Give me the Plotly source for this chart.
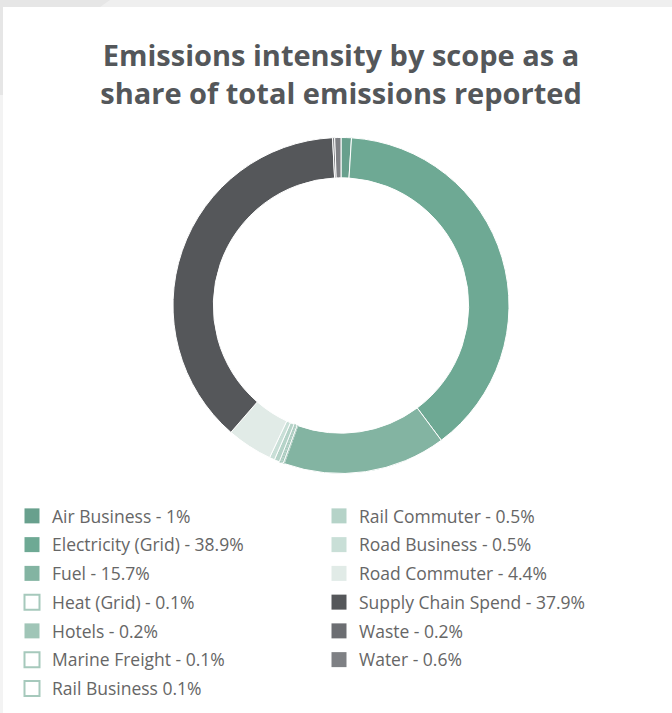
import plotly.graph_objects as go

# ---- data ----
categories = ["Air Business", "Electricity (Grid)", "Fuel", "Heat (Grid)", "Hotels",
              "Marine Freight", "Rail Business", "Rail Commuter", "Road Business",
              "Road Commuter", "Supply Chain Spend", "Waste", "Water"]
shares = [1.0, 38.9, 15.7, 0.1, 0.2, 0.1, 0.1, 0.5, 0.5, 4.4, 37.9, 0.2, 0.6]
legend_labels = ["Air Business - 1%", "Electricity (Grid) - 38.9%", "Fuel - 15.7%",
                 "Heat (Grid) - 0.1%", "Hotels - 0.2%", "Marine Freight - 0.1%",
                 "Rail Business 0.1%", "Rail Commuter - 0.5%", "Road Business - 0.5%",
                 "Road Commuter - 4.4%", "Supply Chain Spend - 37.9%", "Waste - 0.2%",
                 "Water - 0.6%"]
colors = ["#68a08d", "#6ea994", "#83b4a2", "#ffffff", "#a0c5b7", "#ffffff", "#ffffff",
          "#b5d3c8", "#c9dfd7", "#e1ebe7", "#55575a", "#6c6e72", "#7e8084"]
hollow = [False, False, False, True, False, True, True, False, False, False, False, False, False]
outline = "#a6c9bc"

W, H = 672, 713
fig = go.Figure()

fig.add_trace(go.Pie(
    labels=categories, values=shares, sort=False, direction="clockwise", rotation=0,
    hole=0.76, textinfo="none", showlegend=False,
    marker=dict(colors=colors,
                line=dict(color=[outline if h else "#ffffff" for h in hollow], width=1)),
    domain=dict(x=[173 / W, 509 / W], y=[1 - 474 / H, 1 - 137 / H]),
))

# legend entries (two columns)
for i, (lab, c, h) in enumerate(zip(legend_labels, colors, hollow)):
    fig.add_trace(go.Scatter(
        x=[None], y=[None], mode="markers", name=lab,
        legend="legend" if i < 7 else "legend2", legendgroup=f"g{i}",
        marker=dict(symbol="square", size=15, color=c,
                    line=dict(color=outline if h else c, width=2 if h else 0)),
    ))

legend_common = dict(
    orientation="v", xanchor="left", yanchor="top", bgcolor="rgba(0,0,0,0)",
    font=dict(family="Open Sans", size=17.5, color="#666666"),
    traceorder="grouped", tracegroupgap=3, itemsizing="trace",
)

fig.update_layout(
    width=W, height=H,
    margin=dict(l=0, r=0, t=0, b=0),
    paper_bgcolor="#ffffff", plot_bgcolor="rgba(0,0,0,0)",
    xaxis=dict(visible=False), yaxis=dict(visible=False),
    title=dict(
        text="Emissions intensity by scope as a<br>share of total emissions reported",
        x=341 / W, xanchor="center", y=1 - 66 / H, yanchor="top",
        font=dict(family="Open Sans", size=29, color="#54575a", weight="bold"),
    ),
    legend=dict(x=12 / W, y=1 - 498 / H, **legend_common),
    legend2=dict(x=319 / W, y=1 - 498 / H, **legend_common),
    shapes=[
        dict(type="rect", xref="paper", yref="paper", x0=0, x1=1, y0=1 - 7 / H, y1=1,
             fillcolor="#efefef", line_width=0, layer="below"),
        dict(type="rect", xref="paper", yref="paper", x0=0, x1=3 / W, y0=0, y1=1,
             fillcolor="#f3f3f3", line_width=0, layer="below"),
        dict(type="path", xref="paper", yref="paper",
             path=f"M 0 1 L {110 / W} 1 L {100 / W} {1 - 7 / H} L {3 / W} {1 - 7 / H} L {3 / W} {1 - 95 / H} L 0 {1 - 95 / H} Z",
             fillcolor="#e6e6e6", line_width=0, layer="below"),
    ],
)

fig.write_html("out.html")
